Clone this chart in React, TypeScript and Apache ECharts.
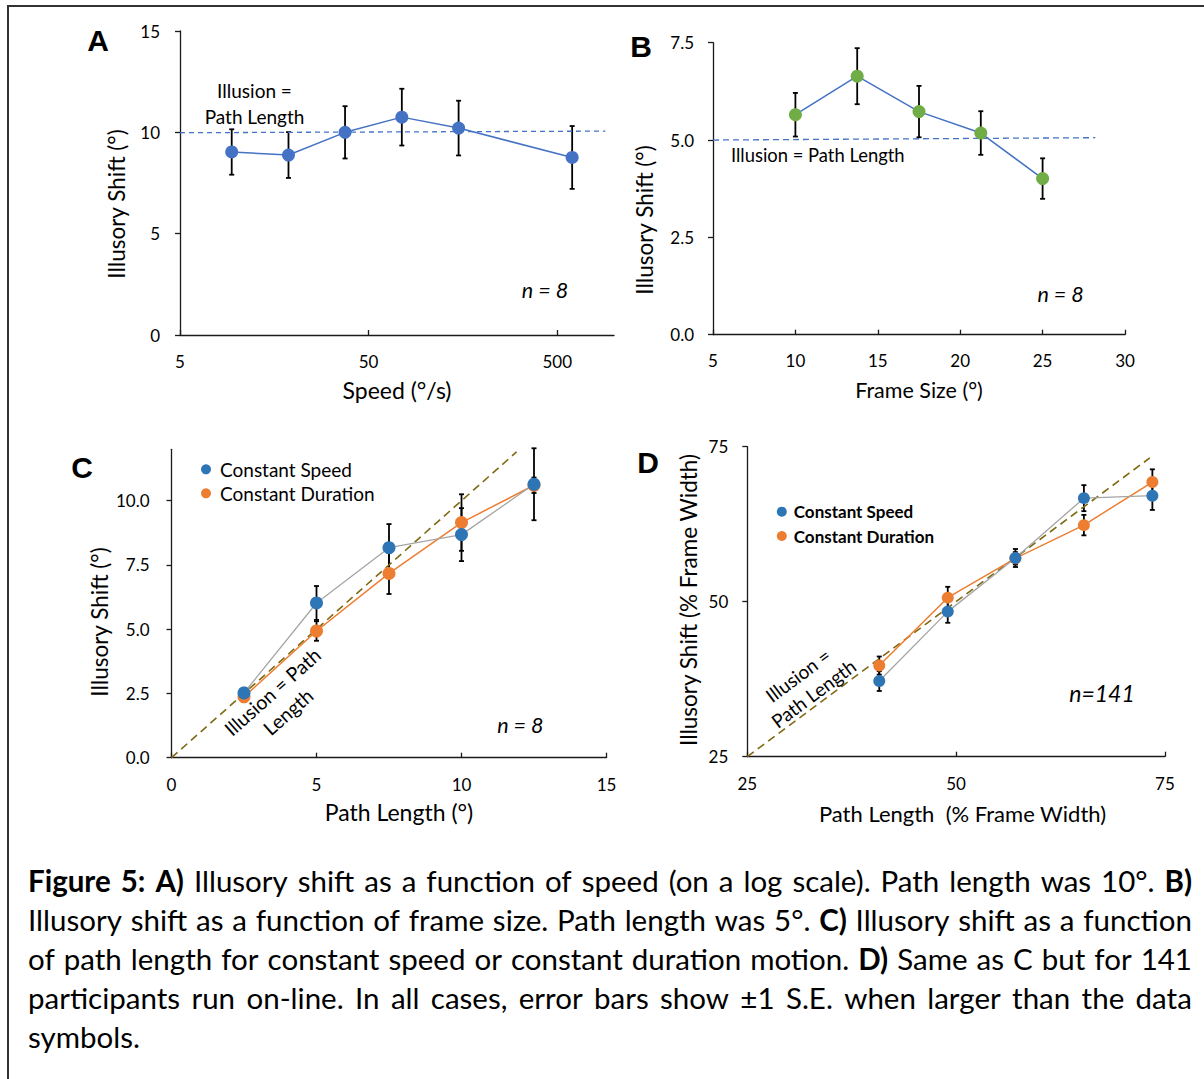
import React, { useEffect, useRef } from "react";
import * as echarts from "echarts";

// ---------- data ----------
// Panel A: illusory shift vs speed (log scale)
const speedA = [9.4, 18.8, 37.5, 75, 150, 600];
const shiftA = [9.03, 8.88, 10.0, 10.75, 10.21, 8.76];
const seA = [1.12, 1.13, 1.29, 1.4, 1.35, 1.55];
const refAx = [5, 900];
const refAy = [9.98, 10.06];
const ticksAx = [5, 50, 500];

// Panel B: illusory shift vs frame size
const frameB = [10, 13.75, 17.5, 21.25, 25];
const shiftB = [5.65, 6.64, 5.73, 5.18, 4.01];
const seB = [0.56, 0.72, 0.66, 0.56, 0.52];
const refBx = [5, 28.2];
const refBy = [5.0, 5.06];

// Panel C: illusory shift vs path length (n = 8)
const pathC = [2.5, 5, 7.5, 10, 12.5];
const speedC = [2.52, 6.02, 8.17, 8.68, 10.64];
const seSpeedC = [0.2, 0.66, 0.92, 1.03, 1.4];
const durC = [2.37, 4.93, 7.17, 9.15, 10.6];
const seDurC = [0.2, 0.38, 0.8, 1.1, 0.3];
const refC = [0, 11.9];
const ticksCy = [0, 2.5, 5, 7.5, 10];

// Panel D: illusory shift vs path length (n = 141)
const pathD = [40.8, 49.0, 57.1, 65.3, 73.5];
const speedD = [37.2, 48.4, 57.05, 66.7, 67.1];
const seSpeedD = [1.6, 1.8, 1.45, 2.1, 2.3];
const durD = [39.7, 50.65, 57.0, 62.35, 69.3];
const seDurD = [1.46, 1.75, 1.0, 1.65, 2.05];
const refD = [25, 73.2];

const seriesNames = ["Constant Speed", "Constant Duration"];

const captionLines = [
  "**Figure 5:** **A)** Illusory shift as a function of speed (on a log scale). Path length was 10°. **B)**",
  "Illusory shift as a function of frame size. Path length was 5°. **C)** Illusory shift as a function",
  "of path length for constant speed or constant duration motion. **D)** Same as C but for 141",
  "participants run on-line. In all cases, error bars show ±1 S.E. when larger than the data",
  "symbols.",
];

// ---------- style ----------
const FONT = 'Lato, "Open Sans", "Noto Sans", sans-serif';
const BLUE_A = "#4472C4";
const GREEN_B = "#70AD47";
const BLUE_C = "#2E75B6";
const ORANGE = "#ED7D31";
const GREY = "#A5A5A5";
const OLIVE = "#7F6A12";
const AXIS = "#1a1a1a";

const pairs = (xs: number[], ys: number[]) => xs.map((x, i) => [x, ys[i]]);

function errorSeries(xs: number[], ys: number[], es: number[], ax: number) {
  return {
    type: "custom",
    xAxisIndex: ax,
    yAxisIndex: ax,
    z: 1,
    silent: true,
    data: xs.map((x, i) => [x, ys[i] - es[i], ys[i] + es[i]]),
    encode: { x: 0, y: [1, 2] },
    renderItem: (_p: any, api: any) => {
      const x = api.value(0);
      const lo = api.coord([x, api.value(1)]);
      const hi = api.coord([x, api.value(2)]);
      const c = 2.5;
      const st = { stroke: "#000", lineWidth: 1.8 };
      return {
        type: "group",
        children: [
          { type: "line", shape: { x1: lo[0], y1: lo[1], x2: hi[0], y2: hi[1] }, style: st },
          { type: "line", shape: { x1: hi[0] - c, y1: hi[1], x2: hi[0] + c, y2: hi[1] }, style: st },
          { type: "line", shape: { x1: lo[0] - c, y1: lo[1], x2: lo[0] + c, y2: lo[1] }, style: st },
        ],
      };
    },
  };
}

const axisLine = { show: true, onZero: false, lineStyle: { color: AXIS, width: 1.3 } };
const labelBase = { color: "#000", fontSize: 17, fontFamily: FONT };

function xAxisBase(grid: number, margin: number) {
  return {
    gridIndex: grid,
    axisLine,
    splitLine: { show: false },
    axisTick: { show: true, inside: true, length: 5, lineStyle: { color: AXIS, width: 1.3 } },
    axisLabel: { ...labelBase, margin },
  };
}
function yAxisBase(grid: number, margin: number) {
  return {
    gridIndex: grid,
    axisLine,
    splitLine: { show: false },
    axisTick: { show: true, inside: false, length: 5, lineStyle: { color: AXIS, width: 1.3 } },
    axisLabel: { ...labelBase, margin },
  };
}

function txt(text: string, x: number, y: number, o: any = {}) {
  const align = o.align || "center";
  return {
    type: "text",
    x,
    y,
    rotation: o.rot ? (o.rot * Math.PI) / 180 : 0,
    z: 10,
    silent: true,
    style: {
      text,
      fill: "#000",
      fontSize: o.size || 19,
      fontFamily: o.family || FONT,
      fontWeight: o.weight || "normal",
      fontStyle: o.italic ? "italic" : "normal",
      align,
      verticalAlign: "middle",
      textAlign: align,
      textVerticalAlign: "middle",
    },
  };
}

function buildOption() {
  const letter = { size: 30, weight: "bold", family: '"Liberation Sans", Arial, sans-serif' };
  return {
    animation: false,
    backgroundColor: "#fff",
    grid: [
      { left: 180, top: 31, width: 434, height: 304 },
      { left: 713, top: 42.7, width: 412, height: 292 },
      { left: 171.5, top: 449.3, width: 435, height: 308.4 },
      { left: 747.3, top: 446.7, width: 417.6, height: 310 },
    ],
    xAxis: [
      {
        ...xAxisBase(0, 18),
        type: "log",
        logBase: 10,
        min: 5,
        max: 1000,
        axisTick: { ...xAxisBase(0, 18).axisTick, customValues: ticksAx },
        axisLabel: { ...labelBase, margin: 18, customValues: ticksAx, formatter: (v: number) => String(Math.round(v)) },
      },
      { ...xAxisBase(1, 17), type: "value", min: 5, max: 30, interval: 5 },
      { ...xAxisBase(2, 18), type: "value", min: 0, max: 15, interval: 5 },
      { ...xAxisBase(3, 18), type: "value", min: 25, max: 75, interval: 25 },
    ],
    yAxis: [
      { ...yAxisBase(0, 20), type: "value", min: 0, max: 15, interval: 5 },
      {
        ...yAxisBase(1, 19),
        type: "value",
        min: 0,
        max: 7.5,
        interval: 2.5,
        axisLabel: { ...labelBase, margin: 19, formatter: (v: number) => v.toFixed(1) },
      },
      {
        ...yAxisBase(2, 22),
        type: "value",
        min: 0,
        max: 12,
        axisTick: { ...yAxisBase(2, 22).axisTick, customValues: ticksCy },
        axisLabel: { ...labelBase, margin: 22, customValues: ticksCy, formatter: (v: number) => v.toFixed(1) },
      },
      { ...yAxisBase(3, 19), type: "value", min: 25, max: 75, interval: 25 },
    ],
    legend: [
      {
        data: seriesNames,
        orient: "vertical",
        left: 201,
        top: 459.3,
        padding: 0,
        itemWidth: 10,
        itemHeight: 10,
        itemGap: 4,
        icon: "circle",
        selectedMode: false,
        textStyle: { fontSize: 19, fontFamily: FONT, color: "#000", lineHeight: 20, padding: [0, 0, 0, 4] },
      },
      {
        data: seriesNames,
        orient: "vertical",
        left: 776.8,
        top: 501.7,
        padding: 0,
        itemWidth: 10,
        itemHeight: 10,
        itemGap: 4.3,
        icon: "circle",
        selectedMode: false,
        textStyle: {
          fontSize: 17,
          fontWeight: "bold",
          fontFamily: FONT,
          color: "#000",
          lineHeight: 20,
          padding: [0, 0, 0, 2],
        },
      },
    ],
    series: [
      // A
      {
        type: "line",
        xAxisIndex: 0,
        yAxisIndex: 0,
        data: pairs(refAx, refAy),
        symbol: "none",
        silent: true,
        z: 2,
        lineStyle: { color: BLUE_A, width: 1.3, type: [5, 4] },
      },
      errorSeries(speedA, shiftA, seA, 0),
      {
        type: "line",
        xAxisIndex: 0,
        yAxisIndex: 0,
        data: pairs(speedA, shiftA),
        symbol: "circle",
        symbolSize: 13,
        z: 3,
        itemStyle: { color: BLUE_A },
        lineStyle: { color: BLUE_A, width: 1.5 },
      },
      // B
      {
        type: "line",
        xAxisIndex: 1,
        yAxisIndex: 1,
        data: pairs(refBx, refBy),
        symbol: "none",
        silent: true,
        z: 2,
        lineStyle: { color: BLUE_A, width: 1.3, type: [6, 4] },
      },
      errorSeries(frameB, shiftB, seB, 1),
      {
        type: "line",
        xAxisIndex: 1,
        yAxisIndex: 1,
        data: pairs(frameB, shiftB),
        symbol: "circle",
        symbolSize: 13,
        z: 3,
        itemStyle: { color: GREEN_B },
        lineStyle: { color: BLUE_A, width: 1.5 },
      },
      // C
      {
        type: "line",
        xAxisIndex: 2,
        yAxisIndex: 2,
        data: pairs(refC, refC),
        symbol: "none",
        silent: true,
        z: 2,
        lineStyle: { color: OLIVE, width: 1.6, type: [8, 5] },
      },
      errorSeries(pathC, durC, seDurC, 2),
      errorSeries(pathC, speedC, seSpeedC, 2),
      {
        name: seriesNames[1],
        type: "line",
        xAxisIndex: 2,
        yAxisIndex: 2,
        data: pairs(pathC, durC),
        symbol: "circle",
        symbolSize: 13,
        z: 3,
        itemStyle: { color: ORANGE },
        lineStyle: { color: ORANGE, width: 1.5 },
      },
      {
        name: seriesNames[0],
        type: "line",
        xAxisIndex: 2,
        yAxisIndex: 2,
        data: pairs(pathC, speedC),
        symbol: "circle",
        symbolSize: 13,
        z: 3,
        itemStyle: { color: BLUE_C },
        lineStyle: { color: GREY, width: 1.3 },
      },
      // D
      {
        type: "line",
        xAxisIndex: 3,
        yAxisIndex: 3,
        data: pairs(refD, refD),
        symbol: "none",
        silent: true,
        z: 2,
        lineStyle: { color: OLIVE, width: 1.6, type: [8, 5] },
      },
      errorSeries(pathD, durD, seDurD, 3),
      errorSeries(pathD, speedD, seSpeedD, 3),
      {
        name: seriesNames[1],
        type: "line",
        xAxisIndex: 3,
        yAxisIndex: 3,
        data: pairs(pathD, durD),
        symbol: "circle",
        symbolSize: 12,
        z: 3,
        itemStyle: { color: ORANGE },
        lineStyle: { color: ORANGE, width: 1.5 },
      },
      {
        name: seriesNames[0],
        type: "line",
        xAxisIndex: 3,
        yAxisIndex: 3,
        data: pairs(pathD, speedD),
        symbol: "circle",
        symbolSize: 12,
        z: 3,
        itemStyle: { color: BLUE_C },
        lineStyle: { color: GREY, width: 1.3 },
      },
    ],
    graphic: [
      txt("A", 98, 40, letter),
      txt("B", 641, 46, letter),
      txt("C", 82, 467, letter),
      txt("D", 648, 462, letter),
      // A
      txt("Illusion =", 254.5, 90),
      txt("Path Length", 254.5, 116),
      txt("n = 8", 545, 290, { size: 21.5, italic: true }),
      txt("Illusory Shift (°)", 116, 204, { size: 22.5, rot: 90 }),
      txt("Speed (°/s)", 397, 390, { size: 23 }),
      // B
      txt("Illusion = Path Length", 731, 155, { align: "left", size: 18.4 }),
      txt("n = 8", 1060.6, 294, { size: 21.5, italic: true }),
      txt("Illusory Shift (°)", 644, 220, { size: 22.5, rot: 90 }),
      txt("Frame Size (°)", 919, 390, { size: 21.5 }),
      // C
      txt("Illusion = Path", 272.4, 691.7, { size: 19.5, rot: 41.5 }),
      txt("Length", 288, 711.7, { size: 19.5, rot: 41.5 }),
      txt("n = 8", 520.4, 725, { size: 21.5, italic: true }),
      txt("Illusory Shift (°)", 99, 622, { size: 22.5, rot: 90 }),
      txt("Path Length (°)", 399, 811.7, { size: 23 }),
      // D
      txt("Illusion =", 797.8, 675, { rot: 36.8 }),
      txt("Path Length", 813.4, 693.3, { rot: 36.8 }),
      txt("n=141", 1102, 693.3, { size: 23, italic: true }),
      txt("Illusory Shift (% Frame Width)", 688, 600, { size: 22.5, rot: 90 }),
      txt("Path Length  (% Frame Width)", 962.5, 813, { size: 22 }),
    ],
  };
}

function CaptionLine({ line, justify, top }: { line: string; justify: boolean; top: number }) {
  const tokens = line.split(" ");
  let bold = false;
  const words = tokens.map((t, i) => {
    let w = t;
    let b = bold;
    if (w.startsWith("**")) {
      w = w.slice(2);
      b = true;
      bold = true;
    }
    if (w.endsWith("**")) {
      w = w.slice(0, -2);
      bold = false;
    }
    return (
      <span key={i} style={{ fontWeight: b ? 700 : 400, whiteSpace: "pre" }}>
        {w}
      </span>
    );
  });
  return (
    <div
      style={{
        position: "absolute",
        left: 28,
        top,
        width: 1164,
        height: 39,
        lineHeight: "39px",
        fontFamily: FONT,
        fontSize: 29.5,
        color: "#000",
        display: "flex",
        justifyContent: justify ? "space-between" : "flex-start",
        gap: justify ? 0 : "0.23em",
        whiteSpace: "nowrap",
      }}
    >
      {words}
    </div>
  );
}

export default function App() {
  const ref = useRef<HTMLDivElement>(null);
  useEffect(() => {
    if (!ref.current) return;
    const chart = echarts.init(ref.current, null, { renderer: "svg" });
    chart.setOption(buildOption() as any);
    return () => chart.dispose();
  }, []);
  return (
    <div
      style={{
        position: "absolute",
        left: 0,
        top: 0,
        width: 1204,
        height: 1079,
        background: "#fff",
        overflow: "hidden",
      }}
    >
      <div ref={ref} style={{ position: "absolute", left: 0, top: 0, width: 1204, height: 850 }} />
      <div
        style={{
          position: "absolute",
          left: 7,
          top: 5,
          width: 1210,
          height: 1090,
          borderTop: "2px solid #333",
          borderLeft: "2px solid #333",
          boxSizing: "border-box",
          pointerEvents: "none",
        }}
      />
      {captionLines.map((l, i) => (
        <CaptionLine key={i} line={l} justify={i < captionLines.length - 1} top={861 + i * 39} />
      ))}
    </div>
  );
}
